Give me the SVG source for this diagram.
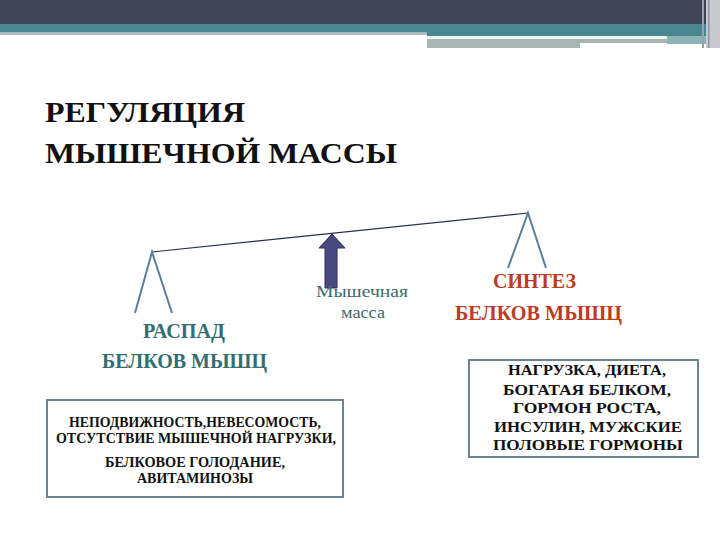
<svg xmlns="http://www.w3.org/2000/svg" width="720" height="540" viewBox="0 0 720 540">
<style>
text{font-family:"Liberation Serif",Tinos,"Times New Roman",Times,"Noto Serif","DejaVu Serif",FreeSerif,serif}
.title{font-size:30px;font-weight:bold;fill:#111}
.teal{fill:#336e72;font-weight:bold;font-size:20px}
.red{fill:#c03a22;font-weight:bold;font-size:20px}
.mass{fill:#3d6b70;font-size:17.5px}
.box{fill:#fff;stroke:#6b8494;stroke-width:2}
.bt{font-size:14px;font-weight:bold;fill:#111}
.rt{font-size:15.5px;font-weight:bold;fill:#111}
.tick{stroke:#5b7e9c;stroke-width:2;fill:none}
</style>
<rect width="720" height="540" fill="#fff"/>
<g id="header">
<rect x="0" y="0" width="720" height="24" fill="#3f4456"/>
<rect x="0" y="24" width="706" height="9" fill="#4a8690"/>
<rect x="0" y="32" width="427" height="3" fill="#a9b9bd"/>
<rect x="427" y="32" width="279" height="4" fill="#4a8690"/>
<rect x="427" y="36" width="240" height="3" fill="#eef4f4"/>
<rect x="427" y="39" width="240" height="4" fill="#a9b5b5"/>
<rect x="427" y="43" width="153" height="5" fill="#a9b5b5"/>
<rect x="667" y="36" width="39" height="8" fill="#8fb4b8"/>
<rect x="706" y="0" width="14" height="48" fill="#c9c9d2"/>
<rect x="702" y="0" width="2" height="48" fill="#9aa0aa"/>
<rect x="708" y="0" width="1.5" height="48" fill="#8e94a0"/>
</g>
<g id="title" class="title">
<text x="45" y="122" textLength="200" lengthAdjust="spacingAndGlyphs">РЕГУЛЯЦИЯ</text>
<text x="45" y="163" textLength="352" lengthAdjust="spacingAndGlyphs">МЫШЕЧНОЙ МАССЫ</text>
</g>
<g id="connectors">
<line x1="152" y1="252" x2="528" y2="213" stroke="#2a3050" stroke-width="1.2"/>
<polyline class="tick" points="135,313 152,252 172,313"/>
<polyline class="tick" points="508,268 528,213 546,268"/>
</g>
<g id="arrow">
<polygon points="332,234 345,248 337,248 337,288 325,288 325,248 319,248" fill="#4a4a82" stroke="#2e2e5e" stroke-width="1"/>
</g>
<g id="mass" class="mass">
<text x="316" y="297" textLength="92" lengthAdjust="spacingAndGlyphs">Мышечная</text>
<text x="341" y="318" textLength="44" lengthAdjust="spacingAndGlyphs">масса</text>
</g>
<g id="raspad" class="teal">
<text x="143" y="338" textLength="82" lengthAdjust="spacingAndGlyphs">РАСПАД</text>
<text x="102" y="368" textLength="165" lengthAdjust="spacingAndGlyphs">БЕЛКОВ МЫШЦ</text>
</g>
<g id="sintez" class="red">
<text x="493" y="288" textLength="83" lengthAdjust="spacingAndGlyphs">СИНТЕЗ</text>
<text x="455" y="320" textLength="167" lengthAdjust="spacingAndGlyphs">БЕЛКОВ МЫШЦ</text>
</g>
<g id="leftbox">
<rect class="box" x="47" y="400" width="296" height="97"/>
<g class="bt">
<text x="69" y="427" textLength="252" lengthAdjust="spacingAndGlyphs">НЕПОДВИЖНОСТЬ,НЕВЕСОМОСТЬ,</text>
<text x="56" y="443" textLength="280" lengthAdjust="spacingAndGlyphs">ОТСУТСТВИЕ МЫШЕЧНОЙ НАГРУЗКИ,</text>
<text x="105" y="467" textLength="180" lengthAdjust="spacingAndGlyphs">БЕЛКОВОЕ ГОЛОДАНИЕ,</text>
<text x="137" y="483" textLength="116" lengthAdjust="spacingAndGlyphs">АВИТАМИНОЗЫ</text>
</g>
</g>
<g id="rightbox">
<rect class="box" x="469" y="360" width="229" height="97"/>
<g class="rt">
<text x="508" y="375" textLength="158" lengthAdjust="spacingAndGlyphs">НАГРУЗКА, ДИЕТА,</text>
<text x="503" y="395" textLength="168" lengthAdjust="spacingAndGlyphs">БОГАТАЯ БЕЛКОМ,</text>
<text x="513" y="413" textLength="148" lengthAdjust="spacingAndGlyphs">ГОРМОН РОСТА,</text>
<text x="494" y="432" textLength="188" lengthAdjust="spacingAndGlyphs">ИНСУЛИН, МУЖСКИЕ</text>
<text x="493" y="450" textLength="190" lengthAdjust="spacingAndGlyphs">ПОЛОВЫЕ ГОРМОНЫ</text>
</g>
</g>
</svg>
